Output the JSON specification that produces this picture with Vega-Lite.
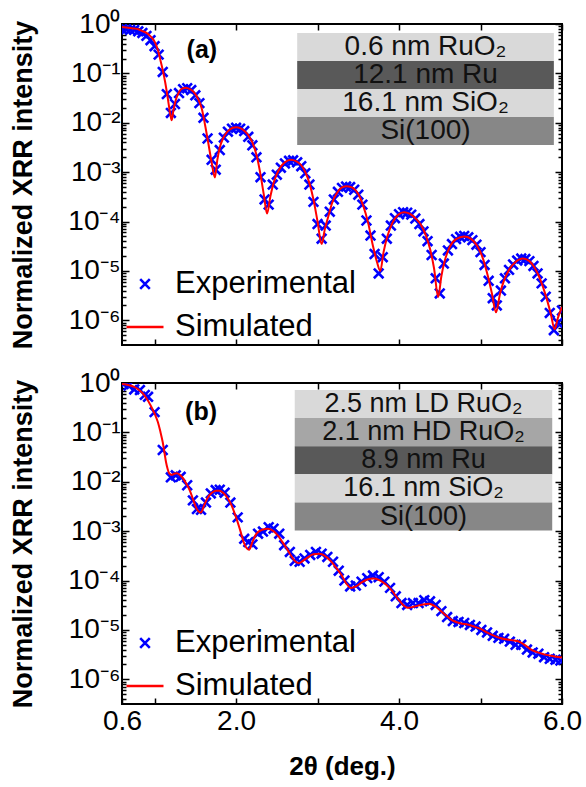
{
  "$schema": "https://vega.github.io/schema/vega-lite/v6.json",
  "padding": {"left": 8, "top": 9, "right": 5, "bottom": 5},
  "background": "white",
  "datasets": {
    "a_exp": [
      {"x":0.60,"y":0.79,"series":"Experimental"},{"x":0.65,"y":0.78,"series":"Experimental"},{"x":0.70,"y":0.76,"series":"Experimental"},{"x":0.75,"y":0.76,"series":"Experimental"},{"x":0.80,"y":0.71,"series":"Experimental"},{"x":0.85,"y":0.66,"series":"Experimental"},{"x":0.90,"y":0.575,"series":"Experimental"},{"x":0.95,"y":0.47,"series":"Experimental"},{"x":1.00,"y":0.355,"series":"Experimental"},{"x":1.05,"y":0.24,"series":"Experimental"},{"x":1.10,"y":0.107,"series":"Experimental"},{"x":1.15,"y":0.038,"series":"Experimental"},{"x":1.20,"y":0.0158,"series":"Experimental"},{"x":1.25,"y":0.024,"series":"Experimental"},{"x":1.30,"y":0.040,"series":"Experimental"},{"x":1.35,"y":0.048,"series":"Experimental"},{"x":1.40,"y":0.050,"series":"Experimental"},{"x":1.45,"y":0.046,"series":"Experimental"},{"x":1.50,"y":0.036,"series":"Experimental"},{"x":1.55,"y":0.025,"series":"Experimental"},{"x":1.60,"y":0.0126,"series":"Experimental"},{"x":1.65,"y":0.0048,"series":"Experimental"},{"x":1.70,"y":0.00178,"series":"Experimental"},{"x":1.75,"y":0.00112,"series":"Experimental"},{"x":1.80,"y":0.0028,"series":"Experimental"},{"x":1.85,"y":0.0050,"series":"Experimental"},{"x":1.90,"y":0.0066,"series":"Experimental"},{"x":1.95,"y":0.0076,"series":"Experimental"},{"x":2.00,"y":0.0079,"series":"Experimental"},{"x":2.05,"y":0.0076,"series":"Experimental"},{"x":2.10,"y":0.0068,"series":"Experimental"},{"x":2.15,"y":0.0052,"series":"Experimental"},{"x":2.20,"y":0.0035,"series":"Experimental"},{"x":2.25,"y":0.0020,"series":"Experimental"},{"x":2.30,"y":0.00079,"series":"Experimental"},{"x":2.35,"y":0.00028,"series":"Experimental"},{"x":2.40,"y":0.00022,"series":"Experimental"},{"x":2.45,"y":0.00056,"series":"Experimental"},{"x":2.50,"y":0.00089,"series":"Experimental"},{"x":2.55,"y":0.00123,"series":"Experimental"},{"x":2.60,"y":0.0015,"series":"Experimental"},{"x":2.65,"y":0.0017,"series":"Experimental"},{"x":2.70,"y":0.00174,"series":"Experimental"},{"x":2.75,"y":0.00158,"series":"Experimental"},{"x":2.80,"y":0.00132,"series":"Experimental"},{"x":2.85,"y":0.00095,"series":"Experimental"},{"x":2.90,"y":0.00056,"series":"Experimental"},{"x":2.95,"y":0.00025,"series":"Experimental"},{"x":3.00,"y":8.9e-5,"series":"Experimental"},{"x":3.05,"y":4.5e-5,"series":"Experimental"},{"x":3.10,"y":8.3e-5,"series":"Experimental"},{"x":3.15,"y":1.58e-4,"series":"Experimental"},{"x":3.20,"y":2.8e-4,"series":"Experimental"},{"x":3.25,"y":4.0e-4,"series":"Experimental"},{"x":3.30,"y":4.8e-4,"series":"Experimental"},{"x":3.35,"y":5.1e-4,"series":"Experimental"},{"x":3.40,"y":5.0e-4,"series":"Experimental"},{"x":3.45,"y":4.4e-4,"series":"Experimental"},{"x":3.50,"y":3.5e-4,"series":"Experimental"},{"x":3.55,"y":2.2e-4,"series":"Experimental"},{"x":3.60,"y":1.05e-4,"series":"Experimental"},{"x":3.65,"y":5.2e-5,"series":"Experimental"},{"x":3.70,"y":2.2e-5,"series":"Experimental"},{"x":3.75,"y":8.9e-6,"series":"Experimental"},{"x":3.80,"y":1.9e-5,"series":"Experimental"},{"x":3.85,"y":4.5e-5,"series":"Experimental"},{"x":3.90,"y":8.3e-5,"series":"Experimental"},{"x":3.95,"y":1.17e-4,"series":"Experimental"},{"x":4.00,"y":1.41e-4,"series":"Experimental"},{"x":4.05,"y":1.55e-4,"series":"Experimental"},{"x":4.10,"y":1.51e-4,"series":"Experimental"},{"x":4.15,"y":1.38e-4,"series":"Experimental"},{"x":4.20,"y":1.15e-4,"series":"Experimental"},{"x":4.25,"y":8.9e-5,"series":"Experimental"},{"x":4.30,"y":6.3e-5,"series":"Experimental"},{"x":4.35,"y":4.0e-5,"series":"Experimental"},{"x":4.40,"y":2.1e-5,"series":"Experimental"},{"x":4.45,"y":7.1e-6,"series":"Experimental"},{"x":4.50,"y":3.5e-6,"series":"Experimental"},{"x":4.55,"y":1.41e-5,"series":"Experimental"},{"x":4.60,"y":2.6e-5,"series":"Experimental"},{"x":4.65,"y":3.5e-5,"series":"Experimental"},{"x":4.70,"y":4.4e-5,"series":"Experimental"},{"x":4.75,"y":4.9e-5,"series":"Experimental"},{"x":4.80,"y":5.1e-5,"series":"Experimental"},{"x":4.85,"y":4.8e-5,"series":"Experimental"},{"x":4.90,"y":4.2e-5,"series":"Experimental"},{"x":4.95,"y":3.4e-5,"series":"Experimental"},{"x":5.00,"y":2.4e-5,"series":"Experimental"},{"x":5.05,"y":1.32e-5,"series":"Experimental"},{"x":5.10,"y":6.3e-6,"series":"Experimental"},{"x":5.15,"y":2.8e-6,"series":"Experimental"},{"x":5.20,"y":2.0e-6,"series":"Experimental"},{"x":5.25,"y":4.0e-6,"series":"Experimental"},{"x":5.30,"y":7.1e-6,"series":"Experimental"},{"x":5.35,"y":1.05e-5,"series":"Experimental"},{"x":5.40,"y":1.35e-5,"series":"Experimental"},{"x":5.45,"y":1.62e-5,"series":"Experimental"},{"x":5.50,"y":1.78e-5,"series":"Experimental"},{"x":5.55,"y":1.74e-5,"series":"Experimental"},{"x":5.60,"y":1.58e-5,"series":"Experimental"},{"x":5.65,"y":1.26e-5,"series":"Experimental"},{"x":5.70,"y":8.9e-6,"series":"Experimental"},{"x":5.75,"y":5.6e-6,"series":"Experimental"},{"x":5.80,"y":3.0e-6,"series":"Experimental"},{"x":5.85,"y":1.41e-6,"series":"Experimental"},{"x":5.90,"y":6.3e-7,"series":"Experimental"},{"x":5.95,"y":8.9e-7,"series":"Experimental"},{"x":6.00,"y":1.58e-6,"series":"Experimental"}
    ],
    "a_sim": [
      {"x":0.60,"y":0.87,"series":"Simulated"},{"x":0.65,"y":0.85,"series":"Simulated"},{"x":0.70,"y":0.83,"series":"Simulated"},{"x":0.75,"y":0.81,"series":"Simulated"},{"x":0.80,"y":0.78,"series":"Simulated"},{"x":0.85,"y":0.72,"series":"Simulated"},{"x":0.90,"y":0.66,"series":"Simulated"},{"x":0.95,"y":0.56,"series":"Simulated"},{"x":1.00,"y":0.44,"series":"Simulated"},{"x":1.04,"y":0.30,"series":"Simulated"},{"x":1.07,"y":0.19,"series":"Simulated"},{"x":1.10,"y":0.117,"series":"Simulated"},{"x":1.13,"y":0.066,"series":"Simulated"},{"x":1.16,"y":0.033,"series":"Simulated"},{"x":1.19,"y":0.0158,"series":"Simulated"},{"x":1.21,"y":0.0112,"series":"Simulated"},{"x":1.23,"y":0.0174,"series":"Simulated"},{"x":1.26,"y":0.0288,"series":"Simulated"},{"x":1.29,"y":0.039,"series":"Simulated"},{"x":1.32,"y":0.047,"series":"Simulated"},{"x":1.35,"y":0.050,"series":"Simulated"},{"x":1.38,"y":0.051,"series":"Simulated"},{"x":1.42,"y":0.049,"series":"Simulated"},{"x":1.46,"y":0.045,"series":"Simulated"},{"x":1.50,"y":0.038,"series":"Simulated"},{"x":1.54,"y":0.029,"series":"Simulated"},{"x":1.58,"y":0.019,"series":"Simulated"},{"x":1.62,"y":0.0089,"series":"Simulated"},{"x":1.66,"y":0.0038,"series":"Simulated"},{"x":1.70,"y":0.00158,"series":"Simulated"},{"x":1.74,"y":0.00078,"series":"Simulated"},{"x":1.77,"y":0.00178,"series":"Simulated"},{"x":1.80,"y":0.00316,"series":"Simulated"},{"x":1.84,"y":0.0048,"series":"Simulated"},{"x":1.88,"y":0.0062,"series":"Simulated"},{"x":1.92,"y":0.0072,"series":"Simulated"},{"x":1.96,"y":0.0079,"series":"Simulated"},{"x":2.00,"y":0.0081,"series":"Simulated"},{"x":2.05,"y":0.0078,"series":"Simulated"},{"x":2.10,"y":0.0069,"series":"Simulated"},{"x":2.15,"y":0.0056,"series":"Simulated"},{"x":2.20,"y":0.0040,"series":"Simulated"},{"x":2.25,"y":0.00224,"series":"Simulated"},{"x":2.30,"y":0.00089,"series":"Simulated"},{"x":2.34,"y":0.000355,"series":"Simulated"},{"x":2.38,"y":0.000145,"series":"Simulated"},{"x":2.42,"y":0.000316,"series":"Simulated"},{"x":2.46,"y":0.0006,"series":"Simulated"},{"x":2.50,"y":0.00091,"series":"Simulated"},{"x":2.55,"y":0.00129,"series":"Simulated"},{"x":2.60,"y":0.00158,"series":"Simulated"},{"x":2.67,"y":0.00178,"series":"Simulated"},{"x":2.74,"y":0.00166,"series":"Simulated"},{"x":2.80,"y":0.00138,"series":"Simulated"},{"x":2.85,"y":0.001,"series":"Simulated"},{"x":2.90,"y":0.0006,"series":"Simulated"},{"x":2.95,"y":0.00028,"series":"Simulated"},{"x":3.00,"y":0.0001,"series":"Simulated"},{"x":3.05,"y":3.5e-5,"series":"Simulated"},{"x":3.09,"y":7.1e-5,"series":"Simulated"},{"x":3.13,"y":1.23e-4,"series":"Simulated"},{"x":3.18,"y":2.4e-4,"series":"Simulated"},{"x":3.23,"y":3.6e-4,"series":"Simulated"},{"x":3.29,"y":4.8e-4,"series":"Simulated"},{"x":3.35,"y":5.2e-4,"series":"Simulated"},{"x":3.42,"y":4.9e-4,"series":"Simulated"},{"x":3.50,"y":3.6e-4,"series":"Simulated"},{"x":3.56,"y":2.1e-4,"series":"Simulated"},{"x":3.62,"y":9.5e-5,"series":"Simulated"},{"x":3.68,"y":3.2e-5,"series":"Simulated"},{"x":3.73,"y":1.5e-5,"series":"Simulated"},{"x":3.77,"y":1.0e-5,"series":"Simulated"},{"x":3.81,"y":2.4e-5,"series":"Simulated"},{"x":3.86,"y":5.2e-5,"series":"Simulated"},{"x":3.92,"y":9.5e-5,"series":"Simulated"},{"x":3.99,"y":1.38e-4,"series":"Simulated"},{"x":4.06,"y":1.55e-4,"series":"Simulated"},{"x":4.13,"y":1.45e-4,"series":"Simulated"},{"x":4.20,"y":1.17e-4,"series":"Simulated"},{"x":4.27,"y":8.5e-5,"series":"Simulated"},{"x":4.33,"y":5.2e-5,"series":"Simulated"},{"x":4.38,"y":2.8e-5,"series":"Simulated"},{"x":4.43,"y":1.12e-5,"series":"Simulated"},{"x":4.48,"y":2.95e-6,"series":"Simulated"},{"x":4.52,"y":7.9e-6,"series":"Simulated"},{"x":4.56,"y":1.58e-5,"series":"Simulated"},{"x":4.62,"y":3.0e-5,"series":"Simulated"},{"x":4.70,"y":4.4e-5,"series":"Simulated"},{"x":4.80,"y":5.0e-5,"series":"Simulated"},{"x":4.88,"y":4.5e-5,"series":"Simulated"},{"x":4.96,"y":3.2e-5,"series":"Simulated"},{"x":5.03,"y":1.78e-5,"series":"Simulated"},{"x":5.09,"y":7.9e-6,"series":"Simulated"},{"x":5.14,"y":3.5e-6,"series":"Simulated"},{"x":5.19,"y":1.45e-6,"series":"Simulated"},{"x":5.24,"y":3.5e-6,"series":"Simulated"},{"x":5.29,"y":6.5e-6,"series":"Simulated"},{"x":5.35,"y":1.05e-5,"series":"Simulated"},{"x":5.43,"y":1.51e-5,"series":"Simulated"},{"x":5.52,"y":1.78e-5,"series":"Simulated"},{"x":5.60,"y":1.58e-5,"series":"Simulated"},{"x":5.67,"y":1.12e-5,"series":"Simulated"},{"x":5.74,"y":6.3e-6,"series":"Simulated"},{"x":5.80,"y":3.2e-6,"series":"Simulated"},{"x":5.86,"y":1.41e-6,"series":"Simulated"},{"x":5.91,"y":6.6e-7,"series":"Simulated"},{"x":5.95,"y":1.12e-6,"series":"Simulated"},{"x":6.00,"y":1.86e-6,"series":"Simulated"}
    ],
    "b_exp": [
      {"x":0.62,"y":0.955,"series":"Experimental"},{"x":0.68,"y":0.89,"series":"Experimental"},{"x":0.75,"y":0.74,"series":"Experimental"},{"x":0.82,"y":0.72,"series":"Experimental"},{"x":0.88,"y":0.575,"series":"Experimental"},{"x":0.92,"y":0.525,"series":"Experimental"},{"x":1.00,"y":0.257,"series":"Experimental"},{"x":1.10,"y":0.044,"series":"Experimental"},{"x":1.20,"y":0.0123,"series":"Experimental"},{"x":1.26,"y":0.0135,"series":"Experimental"},{"x":1.32,"y":0.0126,"series":"Experimental"},{"x":1.40,"y":0.0085,"series":"Experimental"},{"x":1.47,"y":0.0042,"series":"Experimental"},{"x":1.52,"y":0.0028,"series":"Experimental"},{"x":1.57,"y":0.0027,"series":"Experimental"},{"x":1.63,"y":0.0038,"series":"Experimental"},{"x":1.69,"y":0.0058,"series":"Experimental"},{"x":1.75,"y":0.0068,"series":"Experimental"},{"x":1.80,"y":0.0069,"series":"Experimental"},{"x":1.86,"y":0.006,"series":"Experimental"},{"x":1.93,"y":0.0038,"series":"Experimental"},{"x":2.02,"y":0.0019,"series":"Experimental"},{"x":2.10,"y":0.0007,"series":"Experimental"},{"x":2.15,"y":0.0006,"series":"Experimental"},{"x":2.20,"y":0.00054,"series":"Experimental"},{"x":2.27,"y":0.00089,"series":"Experimental"},{"x":2.33,"y":0.00098,"series":"Experimental"},{"x":2.40,"y":0.0012,"series":"Experimental"},{"x":2.46,"y":0.00112,"series":"Experimental"},{"x":2.53,"y":0.00089,"series":"Experimental"},{"x":2.59,"y":0.00052,"series":"Experimental"},{"x":2.66,"y":0.00038,"series":"Experimental"},{"x":2.72,"y":0.00025,"series":"Experimental"},{"x":2.78,"y":0.00024,"series":"Experimental"},{"x":2.84,"y":0.00028,"series":"Experimental"},{"x":2.91,"y":0.00033,"series":"Experimental"},{"x":2.98,"y":0.00038,"series":"Experimental"},{"x":3.05,"y":0.00035,"series":"Experimental"},{"x":3.12,"y":0.0003,"series":"Experimental"},{"x":3.19,"y":0.00024,"series":"Experimental"},{"x":3.26,"y":0.000158,"series":"Experimental"},{"x":3.33,"y":1.0e-4,"series":"Experimental"},{"x":3.40,"y":7.6e-5,"series":"Experimental"},{"x":3.47,"y":7.9e-5,"series":"Experimental"},{"x":3.54,"y":9.5e-5,"series":"Experimental"},{"x":3.61,"y":1.12e-4,"series":"Experimental"},{"x":3.68,"y":1.26e-4,"series":"Experimental"},{"x":3.75,"y":1.17e-4,"series":"Experimental"},{"x":3.82,"y":9.5e-5,"series":"Experimental"},{"x":3.89,"y":7.1e-5,"series":"Experimental"},{"x":3.96,"y":4.8e-5,"series":"Experimental"},{"x":4.03,"y":3.5e-5,"series":"Experimental"},{"x":4.10,"y":3.2e-5,"series":"Experimental"},{"x":4.17,"y":3.5e-5,"series":"Experimental"},{"x":4.24,"y":3.5e-5,"series":"Experimental"},{"x":4.31,"y":4.0e-5,"series":"Experimental"},{"x":4.38,"y":3.8e-5,"series":"Experimental"},{"x":4.45,"y":3.2e-5,"series":"Experimental"},{"x":4.52,"y":2.4e-5,"series":"Experimental"},{"x":4.59,"y":1.82e-5,"series":"Experimental"},{"x":4.66,"y":1.51e-5,"series":"Experimental"},{"x":4.73,"y":1.45e-5,"series":"Experimental"},{"x":4.80,"y":1.38e-5,"series":"Experimental"},{"x":4.87,"y":1.26e-5,"series":"Experimental"},{"x":4.94,"y":1.17e-5,"series":"Experimental"},{"x":5.01,"y":1.0e-5,"series":"Experimental"},{"x":5.08,"y":8.9e-6,"series":"Experimental"},{"x":5.15,"y":7.6e-6,"series":"Experimental"},{"x":5.22,"y":6.9e-6,"series":"Experimental"},{"x":5.29,"y":6.6e-6,"series":"Experimental"},{"x":5.36,"y":5.8e-6,"series":"Experimental"},{"x":5.43,"y":5.0e-6,"series":"Experimental"},{"x":5.50,"y":5.0e-6,"series":"Experimental"},{"x":5.57,"y":4.0e-6,"series":"Experimental"},{"x":5.64,"y":3.5e-6,"series":"Experimental"},{"x":5.71,"y":3.3e-6,"series":"Experimental"},{"x":5.78,"y":2.8e-6,"series":"Experimental"},{"x":5.85,"y":2.6e-6,"series":"Experimental"},{"x":5.92,"y":2.5e-6,"series":"Experimental"},{"x":5.98,"y":2.4e-6,"series":"Experimental"}
    ],
    "b_sim": [
      {"x":0.60,"y":0.955,"series":"Simulated"},{"x":0.65,"y":0.933,"series":"Simulated"},{"x":0.70,"y":0.891,"series":"Simulated"},{"x":0.75,"y":0.832,"series":"Simulated"},{"x":0.80,"y":0.741,"series":"Simulated"},{"x":0.85,"y":0.631,"series":"Simulated"},{"x":0.90,"y":0.49,"series":"Simulated"},{"x":0.95,"y":0.355,"series":"Simulated"},{"x":1.00,"y":0.24,"series":"Simulated"},{"x":1.04,"y":0.162,"series":"Simulated"},{"x":1.07,"y":0.105,"series":"Simulated"},{"x":1.10,"y":0.063,"series":"Simulated"},{"x":1.12,"y":0.040,"series":"Simulated"},{"x":1.14,"y":0.0251,"series":"Simulated"},{"x":1.16,"y":0.0182,"series":"Simulated"},{"x":1.18,"y":0.0148,"series":"Simulated"},{"x":1.21,"y":0.0138,"series":"Simulated"},{"x":1.24,"y":0.0145,"series":"Simulated"},{"x":1.27,"y":0.0148,"series":"Simulated"},{"x":1.31,"y":0.0138,"series":"Simulated"},{"x":1.35,"y":0.0117,"series":"Simulated"},{"x":1.39,"y":0.0091,"series":"Simulated"},{"x":1.43,"y":0.0068,"series":"Simulated"},{"x":1.47,"y":0.0045,"series":"Simulated"},{"x":1.51,"y":0.0030,"series":"Simulated"},{"x":1.54,"y":0.00251,"series":"Simulated"},{"x":1.57,"y":0.0024,"series":"Simulated"},{"x":1.61,"y":0.0034,"series":"Simulated"},{"x":1.65,"y":0.0047,"series":"Simulated"},{"x":1.70,"y":0.0059,"series":"Simulated"},{"x":1.75,"y":0.0066,"series":"Simulated"},{"x":1.80,"y":0.0066,"series":"Simulated"},{"x":1.85,"y":0.0058,"series":"Simulated"},{"x":1.90,"y":0.0046,"series":"Simulated"},{"x":1.95,"y":0.00316,"series":"Simulated"},{"x":2.00,"y":0.0019,"series":"Simulated"},{"x":2.05,"y":0.00105,"series":"Simulated"},{"x":2.10,"y":0.00056,"series":"Simulated"},{"x":2.16,"y":0.00042,"series":"Simulated"},{"x":2.20,"y":0.0006,"series":"Simulated"},{"x":2.25,"y":0.00089,"series":"Simulated"},{"x":2.32,"y":0.00107,"series":"Simulated"},{"x":2.39,"y":0.00112,"series":"Simulated"},{"x":2.46,"y":0.0010,"series":"Simulated"},{"x":2.52,"y":0.00079,"series":"Simulated"},{"x":2.57,"y":0.0006,"series":"Simulated"},{"x":2.62,"y":0.00045,"series":"Simulated"},{"x":2.67,"y":0.00033,"series":"Simulated"},{"x":2.72,"y":0.00025,"series":"Simulated"},{"x":2.77,"y":0.000224,"series":"Simulated"},{"x":2.82,"y":0.00025,"series":"Simulated"},{"x":2.88,"y":0.000295,"series":"Simulated"},{"x":2.95,"y":0.00034,"series":"Simulated"},{"x":3.02,"y":0.000347,"series":"Simulated"},{"x":3.09,"y":0.000316,"series":"Simulated"},{"x":3.16,"y":0.00025,"series":"Simulated"},{"x":3.22,"y":0.00019,"series":"Simulated"},{"x":3.29,"y":0.000132,"series":"Simulated"},{"x":3.35,"y":8.9e-5,"series":"Simulated"},{"x":3.41,"y":7.1e-5,"series":"Simulated"},{"x":3.47,"y":7.6e-5,"series":"Simulated"},{"x":3.53,"y":8.9e-5,"series":"Simulated"},{"x":3.61,"y":1.05e-4,"series":"Simulated"},{"x":3.69,"y":1.10e-4,"series":"Simulated"},{"x":3.77,"y":1.0e-4,"series":"Simulated"},{"x":3.84,"y":8.3e-5,"series":"Simulated"},{"x":3.91,"y":6.3e-5,"series":"Simulated"},{"x":3.99,"y":4.2e-5,"series":"Simulated"},{"x":4.05,"y":3.2e-5,"series":"Simulated"},{"x":4.11,"y":2.8e-5,"series":"Simulated"},{"x":4.18,"y":2.95e-5,"series":"Simulated"},{"x":4.27,"y":3.2e-5,"series":"Simulated"},{"x":4.37,"y":3.4e-5,"series":"Simulated"},{"x":4.45,"y":2.95e-5,"series":"Simulated"},{"x":4.51,"y":2.45e-5,"series":"Simulated"},{"x":4.58,"y":1.95e-5,"series":"Simulated"},{"x":4.64,"y":1.62e-5,"series":"Simulated"},{"x":4.70,"y":1.45e-5,"series":"Simulated"},{"x":4.76,"y":1.35e-5,"series":"Simulated"},{"x":4.84,"y":1.29e-5,"series":"Simulated"},{"x":4.92,"y":1.17e-5,"series":"Simulated"},{"x":5.00,"y":1.05e-5,"series":"Simulated"},{"x":5.09,"y":8.7e-6,"series":"Simulated"},{"x":5.17,"y":7.6e-6,"series":"Simulated"},{"x":5.25,"y":6.8e-6,"series":"Simulated"},{"x":5.35,"y":6.3e-6,"series":"Simulated"},{"x":5.46,"y":5.9e-6,"series":"Simulated"},{"x":5.54,"y":5.0e-6,"series":"Simulated"},{"x":5.61,"y":4.1e-6,"series":"Simulated"},{"x":5.70,"y":3.5e-6,"series":"Simulated"},{"x":5.78,"y":3.2e-6,"series":"Simulated"},{"x":5.88,"y":2.95e-6,"series":"Simulated"},{"x":6.00,"y":2.75e-6,"series":"Simulated"}
    ],
    "a_boxes": [
      {"label":"0.6 nm RuO₂","material":"RuO2","x1":2.75,"x2":5.9,"y1":0.658,"y2":0.178,"xm":4.325,"ym":0.342},
      {"label":"12.1 nm Ru","material":"Ru","x1":2.75,"x2":5.9,"y1":0.178,"y2":0.0483,"xm":4.325,"ym":0.0929},
      {"label":"16.1 nm SiO₂","material":"SiO2","x1":2.75,"x2":5.9,"y1":0.0483,"y2":0.0131,"xm":4.325,"ym":0.0251},
      {"label":"Si(100)","material":"Si","x1":2.75,"x2":5.9,"y1":0.0131,"y2":0.00356,"xm":4.325,"ym":0.00682}
    ],
    "b_boxes": [
      {"label":"2.5 nm LD RuO₂","material":"LD RuO2","x1":2.72,"x2":5.88,"y1":0.721,"y2":0.1945,"xm":4.3,"ym":0.374},
      {"label":"2.1 nm HD RuO₂","material":"HD RuO2","x1":2.72,"x2":5.88,"y1":0.1945,"y2":0.0525,"xm":4.3,"ym":0.101},
      {"label":"8.9 nm Ru","material":"Ru","x1":2.72,"x2":5.88,"y1":0.0525,"y2":0.01413,"xm":4.3,"ym":0.0272},
      {"label":"16.1 nm SiO₂","material":"SiO2","x1":2.72,"x2":5.88,"y1":0.01413,"y2":0.00381,"xm":4.3,"ym":0.00734},
      {"label":"Si(100)","material":"Si","x1":2.72,"x2":5.88,"y1":0.00381,"y2":0.001028,"xm":4.3,"ym":0.00198}
    ],
    "a_tag": [{"x":1.58,"y":0.298,"text":"(a)"}],
    "b_tag": [{"x":1.57,"y":0.257,"text":"(b)"}]
  },
  "vconcat": [
    {
      "width": 440, "height": 321,
      "layer": [
        {"data":{"name":"a_boxes"},"mark":{"type":"rect"},
         "encoding":{
           "x":{"field":"x1","type":"quantitative","scale":{"domain":[0.6,6],"nice":false,"zero":false},"axis":null},
           "x2":{"field":"x2"},
           "y":{"field":"y1","type":"quantitative","scale":{"type":"log","domain":[3.162e-7,1],"nice":false},"axis":null},
           "y2":{"field":"y2"},
           "fill":{"field":"material","type":"nominal","legend":null,"scale":{"domain":["RuO2","LD RuO2","HD RuO2","Ru","SiO2","Si"],"range":["#d9d9d9","#d9d9d9","#a6a6a6","#595959","#d9d9d9","#878787"]}}
         }},
        {"data":{"name":"a_boxes"},"mark":{"type":"text","fontSize":28,"color":"#111111","align":"center","baseline":"middle","font":"Liberation Sans"},
         "encoding":{
           "x":{"field":"xm","type":"quantitative","axis":null},
           "y":{"field":"ym","type":"quantitative","axis":null},
           "text":{"field":"label"}
         }},
        {"data":{"name":"a_tag"},"mark":{"type":"text","fontSize":25,"fontWeight":"bold","color":"black","align":"center","baseline":"middle","font":"Liberation Sans"},
         "encoding":{
           "x":{"field":"x","type":"quantitative","axis":null},
           "y":{"field":"y","type":"quantitative","axis":null},
           "text":{"field":"text"}
         }},
        {"data":{"name":"a_exp"},"mark":{"type":"point","filled":false,"strokeWidth":2.6,"size":1369,"clip":true,"opacity":1},
         "encoding":{
           "x":{"field":"x","type":"quantitative","axis":{"orient":"bottom","values":[1,2,3,4,5,6],"labels":false,"title":null,"tickSize":-6}},
           "y":{"field":"y","type":"quantitative","axis":{"orient":"left","title":"Normalized XRR intensity","titlePadding":30,"values":[1,0.9,0.8,0.7,0.6,0.5,0.4,0.3,0.2,0.1,0.09,0.08,0.07,0.06,0.05,0.04,0.03,0.02,0.01,0.009,0.008,0.007,0.006,0.005,0.004,0.003,0.002,0.001,0.0009,0.0008,0.0007,0.0006,0.0005,0.0004,0.0003,0.0002,0.0001,9e-5,8e-5,7e-5,6e-5,5e-5,4e-5,3e-5,2e-5,1e-5,9e-6,8e-6,7e-6,6e-6,5e-6,4e-6,3e-6,2e-6,1e-6,9e-7,8e-7,7e-7,6e-7,5e-7,4e-7],
             "labelExpr":"abs(log(datum.value)/LN10 - round(log(datum.value)/LN10)) < 0.001 ? '10' + ['⁰','⁻¹','⁻²','⁻³','⁻⁴','⁻⁵','⁻⁶'][-round(log(datum.value)/LN10)] : ''",
             "tickSize":{"condition":{"test":"abs(log(datum.value)/LN10 - round(log(datum.value)/LN10)) < 0.001","value":-7},"value":-4}}},
           "color":{"field":"series","type":"nominal","legend":{"title":null},"scale":{"domain":["Experimental","Simulated"],"range":["#0000ff","#ff0000"]}},
           "shape":{"field":"series","type":"nominal","legend":{"title":null},"scale":{"domain":["Experimental","Simulated"],"range":["M-0.26,-0.26L0.26,0.26M-0.26,0.26L0.26,-0.26","stroke"]}}
         }},
        {"data":{"name":"a_sim"},"mark":{"type":"line","strokeWidth":2,"interpolate":"monotone","clip":true},
         "encoding":{
           "x":{"field":"x","type":"quantitative","axis":{"orient":"top","values":[1,2,3,4,5,6],"labels":false,"title":null,"tickSize":-6}},
           "y":{"field":"y","type":"quantitative","axis":{"orient":"right","labels":false,"title":null,"values":[1,0.9,0.8,0.7,0.6,0.5,0.4,0.3,0.2,0.1,0.09,0.08,0.07,0.06,0.05,0.04,0.03,0.02,0.01,0.009,0.008,0.007,0.006,0.005,0.004,0.003,0.002,0.001,0.0009,0.0008,0.0007,0.0006,0.0005,0.0004,0.0003,0.0002,0.0001,9e-5,8e-5,7e-5,6e-5,5e-5,4e-5,3e-5,2e-5,1e-5,9e-6,8e-6,7e-6,6e-6,5e-6,4e-6,3e-6,2e-6,1e-6,9e-7,8e-7,7e-7,6e-7,5e-7,4e-7],
             "tickSize":{"condition":{"test":"abs(log(datum.value)/LN10 - round(log(datum.value)/LN10)) < 0.001","value":-7},"value":-4}}},
           "color":{"field":"series","type":"nominal","legend":{"title":null}}
         }}
      ],
      "resolve":{"axis":{"x":"independent","y":"independent"}}
    },
    {
      "width": 440, "height": 321,
      "layer": [
        {"data":{"name":"b_boxes"},"mark":{"type":"rect"},
         "encoding":{
           "x":{"field":"x1","type":"quantitative","scale":{"domain":[0.6,6],"nice":false,"zero":false},"axis":null},
           "x2":{"field":"x2"},
           "y":{"field":"y1","type":"quantitative","scale":{"type":"log","domain":[3.162e-7,1],"nice":false},"axis":null},
           "y2":{"field":"y2"},
           "fill":{"field":"material","type":"nominal","legend":null,"scale":{"domain":["RuO2","LD RuO2","HD RuO2","Ru","SiO2","Si"],"range":["#d9d9d9","#d9d9d9","#a6a6a6","#595959","#d9d9d9","#878787"]}}
         }},
        {"data":{"name":"b_boxes"},"mark":{"type":"text","fontSize":27,"color":"#111111","align":"center","baseline":"middle","font":"Liberation Sans"},
         "encoding":{
           "x":{"field":"xm","type":"quantitative","axis":null},
           "y":{"field":"ym","type":"quantitative","axis":null},
           "text":{"field":"label"}
         }},
        {"data":{"name":"b_tag"},"mark":{"type":"text","fontSize":25,"fontWeight":"bold","color":"black","align":"center","baseline":"middle","font":"Liberation Sans"},
         "encoding":{
           "x":{"field":"x","type":"quantitative","axis":null},
           "y":{"field":"y","type":"quantitative","axis":null},
           "text":{"field":"text"}
         }},
        {"data":{"name":"b_exp"},"mark":{"type":"point","filled":false,"strokeWidth":2.6,"size":1369,"clip":true,"opacity":1},
         "encoding":{
           "x":{"field":"x","type":"quantitative","axis":{"orient":"bottom","values":[0.6,1,2,3,4,5,6],"title":"2θ (deg.)","tickSize":-6,"titleFontSize":26,"titlePadding":18,
             "labelExpr":"(datum.value == 0.6 || datum.value == 2 || datum.value == 4 || datum.value == 6) ? format(datum.value, '.1f') : ''"}},
           "y":{"field":"y","type":"quantitative","axis":{"orient":"left","title":"Normalized XRR intensity","titlePadding":30,"values":[1,0.9,0.8,0.7,0.6,0.5,0.4,0.3,0.2,0.1,0.09,0.08,0.07,0.06,0.05,0.04,0.03,0.02,0.01,0.009,0.008,0.007,0.006,0.005,0.004,0.003,0.002,0.001,0.0009,0.0008,0.0007,0.0006,0.0005,0.0004,0.0003,0.0002,0.0001,9e-5,8e-5,7e-5,6e-5,5e-5,4e-5,3e-5,2e-5,1e-5,9e-6,8e-6,7e-6,6e-6,5e-6,4e-6,3e-6,2e-6,1e-6,9e-7,8e-7,7e-7,6e-7,5e-7,4e-7],
             "labelExpr":"abs(log(datum.value)/LN10 - round(log(datum.value)/LN10)) < 0.001 ? '10' + ['⁰','⁻¹','⁻²','⁻³','⁻⁴','⁻⁵','⁻⁶'][-round(log(datum.value)/LN10)] : ''",
             "tickSize":{"condition":{"test":"abs(log(datum.value)/LN10 - round(log(datum.value)/LN10)) < 0.001","value":-7},"value":-4}}},
           "color":{"field":"series","type":"nominal","legend":{"title":null},"scale":{"domain":["Experimental","Simulated"],"range":["#0000ff","#ff0000"]}},
           "shape":{"field":"series","type":"nominal","legend":{"title":null},"scale":{"domain":["Experimental","Simulated"],"range":["M-0.26,-0.26L0.26,0.26M-0.26,0.26L0.26,-0.26","stroke"]}}
         }},
        {"data":{"name":"b_sim"},"mark":{"type":"line","strokeWidth":2,"interpolate":"monotone","clip":true},
         "encoding":{
           "x":{"field":"x","type":"quantitative","axis":{"orient":"top","values":[1,2,3,4,5,6],"labels":false,"title":null,"tickSize":-6}},
           "y":{"field":"y","type":"quantitative","axis":{"orient":"right","labels":false,"title":null,"values":[1,0.9,0.8,0.7,0.6,0.5,0.4,0.3,0.2,0.1,0.09,0.08,0.07,0.06,0.05,0.04,0.03,0.02,0.01,0.009,0.008,0.007,0.006,0.005,0.004,0.003,0.002,0.001,0.0009,0.0008,0.0007,0.0006,0.0005,0.0004,0.0003,0.0002,0.0001,9e-5,8e-5,7e-5,6e-5,5e-5,4e-5,3e-5,2e-5,1e-5,9e-6,8e-6,7e-6,6e-6,5e-6,4e-6,3e-6,2e-6,1e-6,9e-7,8e-7,7e-7,6e-7,5e-7,4e-7],
             "tickSize":{"condition":{"test":"abs(log(datum.value)/LN10 - round(log(datum.value)/LN10)) < 0.001","value":-7},"value":-4}}},
           "color":{"field":"series","type":"nominal","legend":{"title":null}}
         }}
      ],
      "resolve":{"axis":{"x":"independent","y":"independent"}}
    }
  ],
  "spacing": 13,
  "resolve": {"scale": {"color": "independent", "shape": "independent"}, "legend": {"color": "independent", "shape": "independent"}},
  "config": {
    "font": "Liberation Sans",
    "view": {"stroke": "black", "strokeWidth": 2},
    "axis": {"domain": false, "grid": false, "tickColor": "black", "tickWidth": 1.5, "labelColor": "black", "labelFont": "Liberation Sans", "labelFontSize": 28, "labelPadding": 9, "labelOverlap": false, "labelFlush": false, "labelBound": false,
             "titleFont": "Liberation Sans", "titleFontSize": 27, "titleFontWeight": "bold", "titleColor": "black", "titlePadding": 10},
    "legend": {"orient": "bottom-left", "labelFontSize": 31, "labelLimit": 0, "labelFont": "Liberation Sans", "labelColor": "black", "symbolSize": 1369, "symbolStrokeWidth": 2.6, "labelOffset": 10, "rowPadding": 8, "offset": 3, "padding": 0, "symbolType": "stroke"}
  }
}
